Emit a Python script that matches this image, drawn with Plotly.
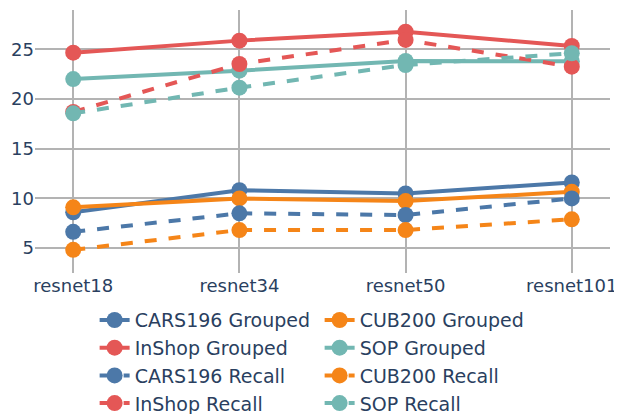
import plotly.graph_objects as go

models = ["resnet18", "resnet34", "resnet50", "resnet101"]

cars196_grouped = [8.6, 10.83, 10.5, 11.6]
cub200_grouped = [9.1, 10.0, 9.73, 10.66]
inshop_grouped = [24.66, 25.87, 26.77, 25.33]
sop_grouped = [22.0, 22.85, 23.82, 23.8]
cars196_recall = [6.64, 8.5, 8.33, 10.0]
cub200_recall = [4.83, 6.82, 6.82, 7.9]
inshop_recall = [18.7, 23.52, 25.94, 23.25]
sop_recall = [18.56, 21.14, 23.42, 24.6]

series = [
    ("CARS196 Grouped", cars196_grouped, "#4C78A8", "solid"),
    ("CUB200 Grouped", cub200_grouped, "#F58518", "solid"),
    ("InShop Grouped", inshop_grouped, "#E45756", "solid"),
    ("SOP Grouped", sop_grouped, "#72B7B2", "solid"),
    ("CARS196 Recall", cars196_recall, "#4C78A8", "dash"),
    ("CUB200 Recall", cub200_recall, "#F58518", "dash"),
    ("InShop Recall", inshop_recall, "#E45756", "dash"),
    ("SOP Recall", sop_recall, "#72B7B2", "dash"),
]

fig = go.Figure()
for name, vals, color, dash in series:
    fig.add_trace(go.Scatter(
        x=models, y=vals, name=name, mode="lines+markers",
        line=dict(color=color, width=4, dash=dash),
        marker=dict(color=color, size=16),
    ))

grid = "#b3b3b3"
fig.update_layout(
    width=614, height=406,
    margin=dict(l=27, r=12, t=2, b=141, autoexpand=False),
    paper_bgcolor="white", plot_bgcolor="white",
    font=dict(family="Verdana, DejaVu Sans, sans-serif", size=18, color="#2a3f5f"),
    showlegend=True,
    legend=dict(orientation="h", x=0.495, xanchor="center", y=-0.107, yanchor="top",
                font=dict(size=19), entrywidth=180, tracegroupgap=0),
    xaxis=dict(range=[-0.23, 3.23], showgrid=True, gridcolor=grid, gridwidth=2,
               zeroline=False, showline=False, ticks="", automargin=False),
    yaxis=dict(range=[2.5, 28.95], dtick=5, showgrid=True, gridcolor=grid, gridwidth=2,
               zeroline=False, showline=False, ticks="", automargin=False),
)

fig.write_html("out.html")
